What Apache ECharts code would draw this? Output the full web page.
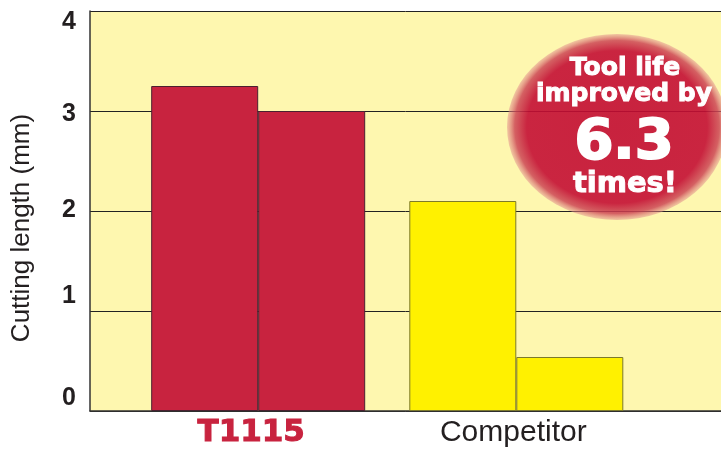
<!DOCTYPE html>
<html><head><meta charset="utf-8">
<script src="https://cdn.jsdelivr.net/npm/echarts@6/dist/echarts.min.js"></script>
<style>html,body{margin:0;padding:0;background:#fff}#c{width:721px;height:452px}</style>
</head><body><div id="c"></div>
<script>
var categories = ['T1115', 'Competitor'];
var firstBars = [3.25, 2.1];
var secondBars = [3.0, 0.54];
var yTicks = [0, 1, 2, 3, 4];
var yAxisTitle = 'Cutting length (mm)';
var badgeLines = ['Tool life', 'improved by', '6.3', 'times!'];

var barColors = ['#C8233F', '#FFF100'];
var barBorders = ['#4a2030', '#7d7a2a'];
var F = '"Liberation Sans", Arial, Helvetica, sans-serif';
var FB = '"DejaVu Sans", Verdana, sans-serif';

function mk(vals) {
  return vals.map(function (v, i) {
    return { value: v, itemStyle: { color: barColors[i], borderColor: barBorders[i], borderWidth: 1 } };
  });
}

var tickStyle = { fontFamily: F, fontWeight: 'bold', fontSize: 25, color: '#231f20' };
function tickRich(pad) { return Object.assign({ padding: pad }, tickStyle); }
function badgeText(x, y, txt, size, sw) {
  return { type: 'text', x: x, y: y, z: 6,
    style: { text: txt, font: 'bold ' + size + 'px ' + FB, fill: '#fff', stroke: '#fff', lineWidth: sw,
      align: 'center', verticalAlign: 'middle' } };
}

var chart = echarts.init(document.getElementById('c'));
chart.setOption({
  animation: false,
  grid: [
    { left: 90, right: 0, top: 11, bottom: 41, show: true, backgroundColor: '#FEF7AF', borderWidth: 0 },
    { left: 129.15, right: 75.65, top: 11, bottom: 41 }
  ],
  xAxis: [
    { gridIndex: 0, type: 'category', data: categories, axisLabel: { show: false }, axisTick: { show: false },
      axisLine: { lineStyle: { color: '#333', width: 1.5 } } },
    { gridIndex: 1, type: 'category', data: categories, axisTick: { show: false }, axisLine: { show: false },
      axisLabel: { margin: 4, formatter: function (v, i) { return i === 0 ? '{a|' + v + '}' : '{b|' + v + '}'; },
        rich: {
          a: { fontFamily: FB, fontWeight: 'bold', fontSize: 31, color: '#C8233F', lineHeight: 36, padding: [0, 14, 0, 0],
               textBorderColor: '#C8233F', textBorderWidth: 1 },
          b: { fontFamily: F, fontSize: 30, color: '#231f20', lineHeight: 36, padding: [0, 6, 0, 0] }
        } } }
  ],
  yAxis: [
    { gridIndex: 0, type: 'value', min: yTicks[0], max: yTicks[yTicks.length - 1], interval: 1,
      axisLine: { show: true, lineStyle: { color: '#333', width: 1.5 } }, axisTick: { show: false },
      axisLabel: { margin: 14, formatter: function (v) { return '{t' + v + '|' + v + '}'; },
        rich: {
          t0: tickRich([0, 0, 25, 0]),
          t1: tickRich([0, 0, 30, 0]),
          t2: tickRich([0, 0, 2, 0]),
          t3: tickRich([6, 0, 0, 0]),
          t4: tickRich([23, 0, 0, 0])
        } },
      splitLine: { lineStyle: { color: '#222', width: 1 } } },
    { gridIndex: 1, type: 'value', min: 0, max: 4, show: false, splitLine: { show: false } }
  ],
  series: [
    { type: 'bar', xAxisIndex: 1, yAxisIndex: 1, data: mk(firstBars), barWidth: 107, barGap: '0%' },
    { type: 'bar', xAxisIndex: 1, yAxisIndex: 1, data: mk(secondBars), barWidth: 107, barGap: '0%' }
  ],
  graphic: [
    { type: 'text', x: 22, y: 228, rotation: Math.PI / 2,
      style: { text: yAxisTitle, font: '26px ' + F, fill: '#231f20', align: 'center', verticalAlign: 'middle' } },
    { type: 'circle', x: 617, y: 127, scaleX: 110 / 93, z: 5,
      shape: { cx: 0, cy: 0, r: 93 },
      style: { fill: { type: 'radial', x: 0.5, y: 0.5, r: 0.5, colorStops: [
        { offset: 0, color: 'rgba(194,11,50,0.9)' },
        { offset: 0.82, color: 'rgba(196,14,52,0.9)' },
        { offset: 0.93, color: 'rgba(205,70,85,0.85)' },
        { offset: 1, color: 'rgba(225,140,140,0.45)' }] } } },
    badgeText(625, 68, badgeLines[0], 25, 1),
    badgeText(624, 94, badgeLines[1], 25, 1),
    badgeText(624, 143, badgeLines[2], 56, 2),
    badgeText(625, 184, badgeLines[3], 29, 1)
  ]
});
</script></body></html>
